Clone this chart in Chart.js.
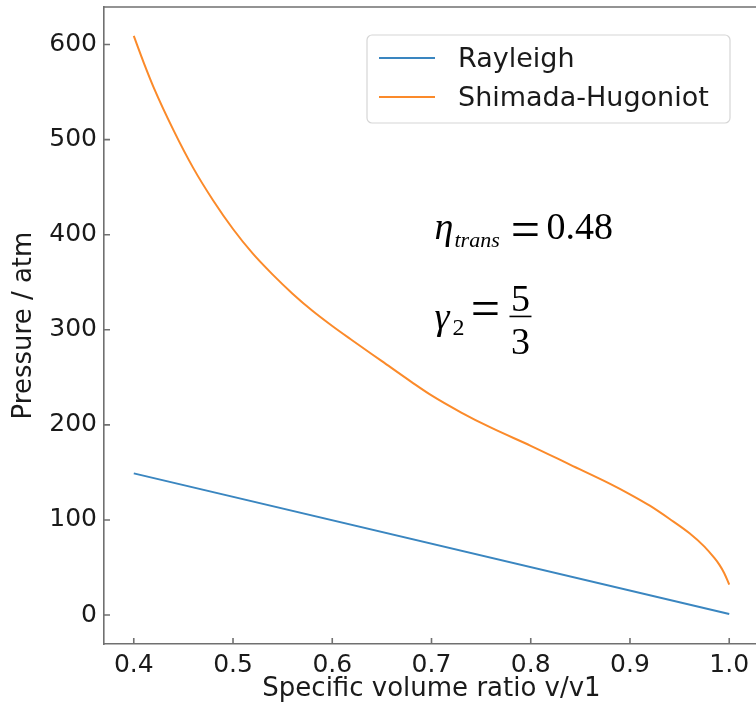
<!DOCTYPE html>
<html>
<head>
<meta charset="utf-8">
<title>Rayleigh line and Shimada-Hugoniot curve</title>
<script src="https://cdn.jsdelivr.net/npm/chart.js@4.4.1/dist/chart.umd.min.js"></script>
<style>
  html, body { margin: 0; padding: 0; background: #fff; overflow: hidden; }
  #wrap { width: 766px; height: 705px; }
</style>
</head>
<body>
<div id="wrap"><canvas id="shockChart"></canvas></div>
<script>
// Rayleigh line (straight, two end points)
const rayV = [0.40, 1.00];
const rayP = [149, 1];

// Shimada-Hugoniot curve, pressure in atm against v/v1
const hugV = [0.40, 0.41, 0.42, 0.44, 0.46, 0.48, 0.50, 0.52, 0.54, 0.56, 0.58, 0.60,
              0.62, 0.65, 0.68, 0.70, 0.73, 0.76, 0.80, 0.84, 0.88, 0.90, 0.92, 0.94,
              0.96, 0.975, 0.985, 0.99, 0.995, 1.00];
const hugP = [609, 581, 555, 510, 470, 436, 406, 380, 358, 338, 320, 304,
              289, 267, 245, 231, 213, 197, 178, 158, 138, 127, 115, 101,
              86, 72, 60, 53, 44, 32];

// Tick labels
const xTicks = [0.4, 0.5, 0.6, 0.7, 0.8, 0.9, 1.0];
const yTicks = [0, 100, 200, 300, 400, 500, 600];

const SPINE = '#707070';
const FONT = "'DejaVu Sans', sans-serif";
const SERIF = "'Liberation Serif', 'Times New Roman', serif";

const toPoints = (xs, ys) => xs.map((x, i) => ({ x: x, y: ys[i] }));

// matplotlib-style inward ticks, top/right spines, legend box and the formula text
const decorations = {
    id: 'decorations',
    afterDraw(chart) {
        const ctx = chart.ctx;
        const area = chart.chartArea;
        const xs = chart.scales.x;
        const ys = chart.scales.y;
        ctx.save();

        ctx.strokeStyle = SPINE;
        ctx.lineWidth = 1.6;
        ctx.beginPath();
        ctx.moveTo(area.left, area.top);
        ctx.lineTo(area.right, area.top);
        ctx.lineTo(area.right, area.bottom);
        xs.ticks.forEach(t => {
            const px = xs.getPixelForValue(t.value);
            ctx.moveTo(px, area.bottom);
            ctx.lineTo(px, area.bottom - 6);
        });
        ys.ticks.forEach(t => {
            const py = ys.getPixelForValue(t.value);
            ctx.moveTo(area.left, py);
            ctx.lineTo(area.left + 6, py);
        });
        ctx.stroke();

        // legend
        const lx = area.left + 263, ly = area.top + 28, lw = 363, lh = 88;
        ctx.fillStyle = 'rgba(255,255,255,0.85)';
        ctx.strokeStyle = '#d6d6d6';
        ctx.lineWidth = 1.2;
        ctx.beginPath();
        ctx.roundRect(lx, ly, lw, lh, 5);
        ctx.fill();
        ctx.stroke();
        ctx.font = '27px ' + FONT;
        ctx.textBaseline = 'alphabetic';
        ctx.textAlign = 'left';
        chart.data.datasets.forEach((ds, i) => {
            const rowY = ly + 23 + i * 39;
            ctx.strokeStyle = ds.borderColor;
            ctx.lineWidth = 2;
            ctx.beginPath();
            ctx.moveTo(lx + 12, rowY);
            ctx.lineTo(lx + 68, rowY);
            ctx.stroke();
            ctx.fillStyle = '#1a1a1a';
            ctx.fillText(ds.label, lx + 91, rowY + 9);
        });

        // formula block
        const fx = xs.getPixelForValue(0.703);
        const fy = ys.getPixelForValue(395);
        ctx.fillStyle = '#000';
        ctx.strokeStyle = '#000';
        ctx.font = 'italic 38px ' + SERIF;
        ctx.fillText('\u03B7', fx, fy);
        ctx.font = 'italic 22px ' + SERIF;
        ctx.fillText('trans', fx + 20, fy + 8);
        ctx.textAlign = 'center';
        ctx.font = '52px ' + SERIF;
        ctx.fillText('=', fx + 91, fy + 8);
        ctx.textAlign = 'left';
        ctx.font = '38px ' + SERIF;
        ctx.fillText('0.48', fx + 112, fy);

        const gy = fy + 90;
        ctx.font = 'italic 38px ' + SERIF;
        ctx.fillText('\u03B3', fx, gy);
        ctx.font = '24px ' + SERIF;
        ctx.fillText('2', fx + 18, gy + 6);
        ctx.textAlign = 'center';
        ctx.font = '52px ' + SERIF;
        ctx.fillText('=', fx + 51, gy - 3);
        ctx.font = '38px ' + SERIF;
        ctx.fillText('5', fx + 86, gy - 18);
        ctx.fillText('3', fx + 86, gy + 25);
        ctx.lineWidth = 1.6;
        ctx.beginPath();
        ctx.moveTo(fx + 75, gy - 13);
        ctx.lineTo(fx + 97, gy - 13);
        ctx.stroke();

        ctx.restore();
    }
};

const chart = new Chart(document.getElementById('shockChart'), {
    type: 'line',
    data: {
        datasets: [
            {
                label: 'Rayleigh',
                data: toPoints(rayV, rayP),
                borderColor: '#3a86c0',
                borderWidth: 2,
                pointRadius: 0
            },
            {
                label: 'Shimada-Hugoniot',
                data: toPoints(hugV, hugP),
                borderColor: '#fb8a2a',
                borderWidth: 2,
                pointRadius: 0,
                cubicInterpolationMode: 'monotone'
            }
        ]
    },
    options: {
        responsive: true,
        maintainAspectRatio: false,
        animation: false,
        layout: { padding: { left: 0, top: 7, right: 7, bottom: 0 } },
        plugins: {
            legend: { display: false },
            tooltip: { enabled: false }
        },
        scales: {
            x: {
                type: 'linear',
                min: 0.37,
                max: 1.03,
                afterBuildTicks: s => { s.ticks = xTicks.map(v => ({ value: v })); },
                afterFit: s => { s.height = 61; s.paddingLeft = 0; s.paddingRight = 0; },
                grid: { display: false, drawTicks: false },
                border: { display: true, color: SPINE, width: 1.6 },
                ticks: {
                    padding: 6,
                    color: '#1a1a1a',
                    font: { family: FONT, size: 25 },
                    maxRotation: 0,
                    callback: v => v.toFixed(1)
                },
                title: {
                    display: true,
                    text: 'Specific volume ratio v/v1',
                    color: '#1a1a1a',
                    font: { family: FONT, size: 26, lineHeight: 1.2 },
                    padding: { top: 0, bottom: 0 }
                }
            },
            y: {
                min: -30.45,
                max: 639.45,
                afterBuildTicks: s => { s.ticks = yTicks.map(v => ({ value: v })); },
                afterFit: s => { s.width = 104; s.paddingTop = 0; s.paddingBottom = 0; },
                grid: { display: false, drawTicks: false },
                border: { display: true, color: SPINE, width: 1.6 },
                ticks: {
                    padding: 7,
                    color: '#1a1a1a',
                    font: { family: FONT, size: 25 },
                    callback: v => String(v)
                },
                title: {
                    display: true,
                    text: 'Pressure / atm',
                    color: '#1a1a1a',
                    font: { family: FONT, size: 26, lineHeight: 1.2 },
                    padding: { top: 9, bottom: 0 }
                }
            }
        }
    },
    plugins: [decorations]
});
</script>
</body>
</html>
